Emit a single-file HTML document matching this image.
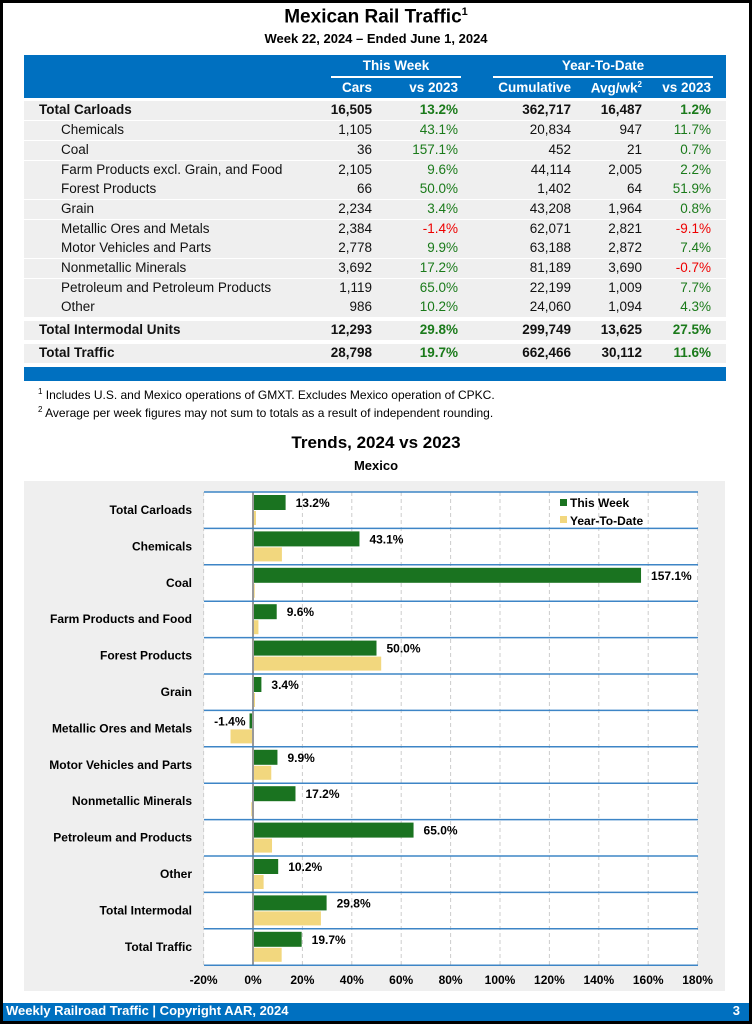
<!DOCTYPE html>
<html><head><meta charset="utf-8"><style>
*{margin:0;padding:0;box-sizing:border-box}
body{width:752px;height:1024px;background:#000;font-family:"Liberation Sans",Arial,sans-serif;position:relative;overflow:hidden}
.page{position:absolute;left:3px;top:3px;width:746px;height:1018px;background:#fff}
.a{position:absolute;white-space:nowrap}
.r{text-align:right}
.row{position:absolute;left:24px;width:702px;height:19px;background:#efefef}
.t{font-size:13.5px;color:#111}
.t.g{color:#1a7a1a}.t.red{color:#e00}
.b{font-weight:bold}
.hd{color:#fff;font-weight:bold;font-size:13.5px}
</style></head><body><div class="page"></div>
<div class="a b" style="left:0;width:752px;text-align:center;top:6px;font-size:19px">Mexican Rail Traffic<sup style="font-size:11px">1</sup></div>
<div class="a b" style="left:0;width:752px;text-align:center;top:31px;font-size:13px">Week 22, 2024 – Ended June 1, 2024</div>
<div class="a" style="left:24px;top:55px;width:702px;height:43px;background:#0070c0"></div>
<div class="a hd" style="left:331px;width:130px;text-align:center;top:58px">This Week</div>
<div class="a" style="left:331px;top:76px;width:130px;height:2px;background:#fff"></div>
<div class="a hd" style="left:493px;width:220px;text-align:center;top:58px">Year-To-Date</div>
<div class="a" style="left:493px;top:76px;width:220px;height:2px;background:#fff"></div>
<div class="a hd r" style="right:380px;top:80px">Cars</div>
<div class="a hd r" style="right:294px;top:80px">vs 2023</div>
<div class="a hd r" style="right:181px;top:80px">Cumulative</div>
<div class="a hd r" style="right:110px;top:80px">Avg/wk<sup style="font-size:8px">2</sup></div>
<div class="a hd r" style="right:41px;top:80px">vs 2023</div>
<div id="tbl"></div>
<div class="a" style="left:24px;top:367px;width:702px;height:14px;background:#0070c0"></div>
<div class="a" style="left:38px;top:387px;font-size:12px"><sup style="font-size:8px">1</sup> Includes U.S. and Mexico operations of GMXT. Excludes Mexico operation of CPKC.</div>
<div class="a" style="left:38px;top:405px;font-size:12px"><sup style="font-size:8px">2</sup> Average per week figures may not sum to totals as a result of independent rounding.</div>
<div class="a b" style="left:0;width:752px;text-align:center;top:433px;font-size:17px">Trends, 2024 vs 2023</div>
<div class="a b" style="left:0;width:752px;text-align:center;top:458px;font-size:13px">Mexico</div>
<div class="a" style="left:24px;top:481px;width:701px;height:510px;background:#efefef"></div>
<svg class="a" style="left:0;top:0" width="752" height="1024" id="ch" font-family="Liberation Sans, Arial, sans-serif"></svg>
<div class="a" style="left:3px;top:1003px;width:746px;height:18px;background:#0070c0"></div>
<div class="a b" style="left:6px;top:1003px;font-size:13px;color:#fff">Weekly Railroad Traffic | Copyright AAR, 2024</div>
<div class="a b" style="right:12px;top:1003px;font-size:13px;color:#fff">3</div>
<script>
var rows=[
["Total Carloads","16,505","13.2%","362,717","16,487","1.2%",1,110],
["Chemicals","1,105","43.1%","20,834","947","11.7%",0,130],
["Coal","36","157.1%","452","21","0.7%",0,150],
["Farm Products excl. Grain, and Food","2,105","9.6%","44,114","2,005","2.2%",0,170],
["Forest Products","66","50.0%","1,402","64","51.9%",0,189],
["Grain","2,234","3.4%","43,208","1,964","0.8%",0,209],
["Metallic Ores and Metals","2,384","-1.4%","62,071","2,821","-9.1%",0,229],
["Motor Vehicles and Parts","2,778","9.9%","63,188","2,872","7.4%",0,248],
["Nonmetallic Minerals","3,692","17.2%","81,189","3,690","-0.7%",0,268],
["Petroleum and Petroleum Products","1,119","65.0%","22,199","1,009","7.7%",0,288],
["Other","986","10.2%","24,060","1,094","4.3%",0,307],
["Total Intermodal Units","12,293","29.8%","299,749","13,625","27.5%",1,330],
["Total Traffic","28,798","19.7%","662,466","30,112","11.6%",1,353]];
var h="";
rows.forEach(function(r){var y=r[7]-9,b=r[6]?" b":"";
function c(v){return v[0]=="-"?"red":"g"}
h+='<div class="row" style="top:'+(y-0.5)+'px"></div>';
h+='<div class="a t'+b+'" style="left:'+(r[6]?39:61)+'px;top:'+(y+1)+'px">'+r[0]+'</div>';
h+='<div class="a t r'+b+'" style="right:380px;top:'+(y+1)+'px">'+r[1]+'</div>';
h+='<div class="a t r '+c(r[2])+b+'" style="right:294px;top:'+(y+1)+'px">'+r[2]+'</div>';
h+='<div class="a t r'+b+'" style="right:181px;top:'+(y+1)+'px">'+r[3]+'</div>';
h+='<div class="a t r'+b+'" style="right:110px;top:'+(y+1)+'px">'+r[4]+'</div>';
h+='<div class="a t r '+c(r[5])+b+'" style="right:41px;top:'+(y+1)+'px">'+r[5]+'</div>';});
document.getElementById("tbl").innerHTML=h;
var cats=["Total Carloads","Chemicals","Coal","Farm Products and Food","Forest Products","Grain","Metallic Ores and Metals","Motor Vehicles and Parts","Nonmetallic Minerals","Petroleum and Products","Other","Total Intermodal","Total Traffic"];
var tw=[13.2,43.1,157.1,9.6,50,3.4,-1.4,9.9,17.2,65,10.2,29.8,19.7];
var yt=[1.2,11.7,0.7,2.2,51.9,0.8,-9.1,7.4,-0.7,7.7,4.3,27.5,11.6];
function X(v){return 253+2.47*v}
var s='<rect x="204" y="492" width="494" height="473" fill="#fff"/>';
for(var i=-20;i<=180;i+=20){var x=X(i);if(i!=0)s+='<line x1="'+x+'" y1="492" x2="'+x+'" y2="965" stroke="#ccc" stroke-dasharray="4,3"/>';
s+='<text x="'+x+'" y="984" font-size="12" font-weight="bold" text-anchor="middle">'+i+'%</text>';}
for(var k=0;k<13;k++){var t=492+k*36.4;
var g=tw[k],yv=yt[k];
s+='<rect x="'+Math.min(X(0),X(g))+'" y="'+(t+3)+'" width="'+Math.abs(2.47*g)+'" height="15" fill="#1a7320"/>';
s+='<rect x="'+Math.min(X(0),X(yv))+'" y="'+(t+19)+'" width="'+Math.max(1,Math.abs(2.47*yv))+'" height="14" fill="#f2d77e"/>';
var lx=g<0?X(g)-4:X(g)+10;
s+='<text x="'+lx+'" y="'+(t+15)+'" font-size="12" font-weight="bold" text-anchor="'+(g<0?"end":"start")+'">'+g.toFixed(1)+'%</text>';
s+='<text x="192" y="'+(t+22)+'" font-size="12" font-weight="bold" text-anchor="end">'+cats[k]+'</text>';}
s+='<line x1="253" y1="492" x2="253" y2="965" stroke="#999" stroke-width="2"/>';
for(var k=0;k<=13;k++){var t=492+k*36.4;s+='<line x1="204" y1="'+t+'" x2="698" y2="'+t+'" stroke="#3d85c6" stroke-width="1.5"/>';}
s+='<rect x="560" y="499" width="7" height="7" fill="#1a7320"/><text x="570" y="507" font-size="12" font-weight="bold">This Week</text>';
s+='<rect x="560" y="516" width="7" height="7" fill="#f2d77e"/><text x="570" y="525" font-size="12" font-weight="bold">Year-To-Date</text>';
document.getElementById("ch").innerHTML=s;
</script></body></html>
